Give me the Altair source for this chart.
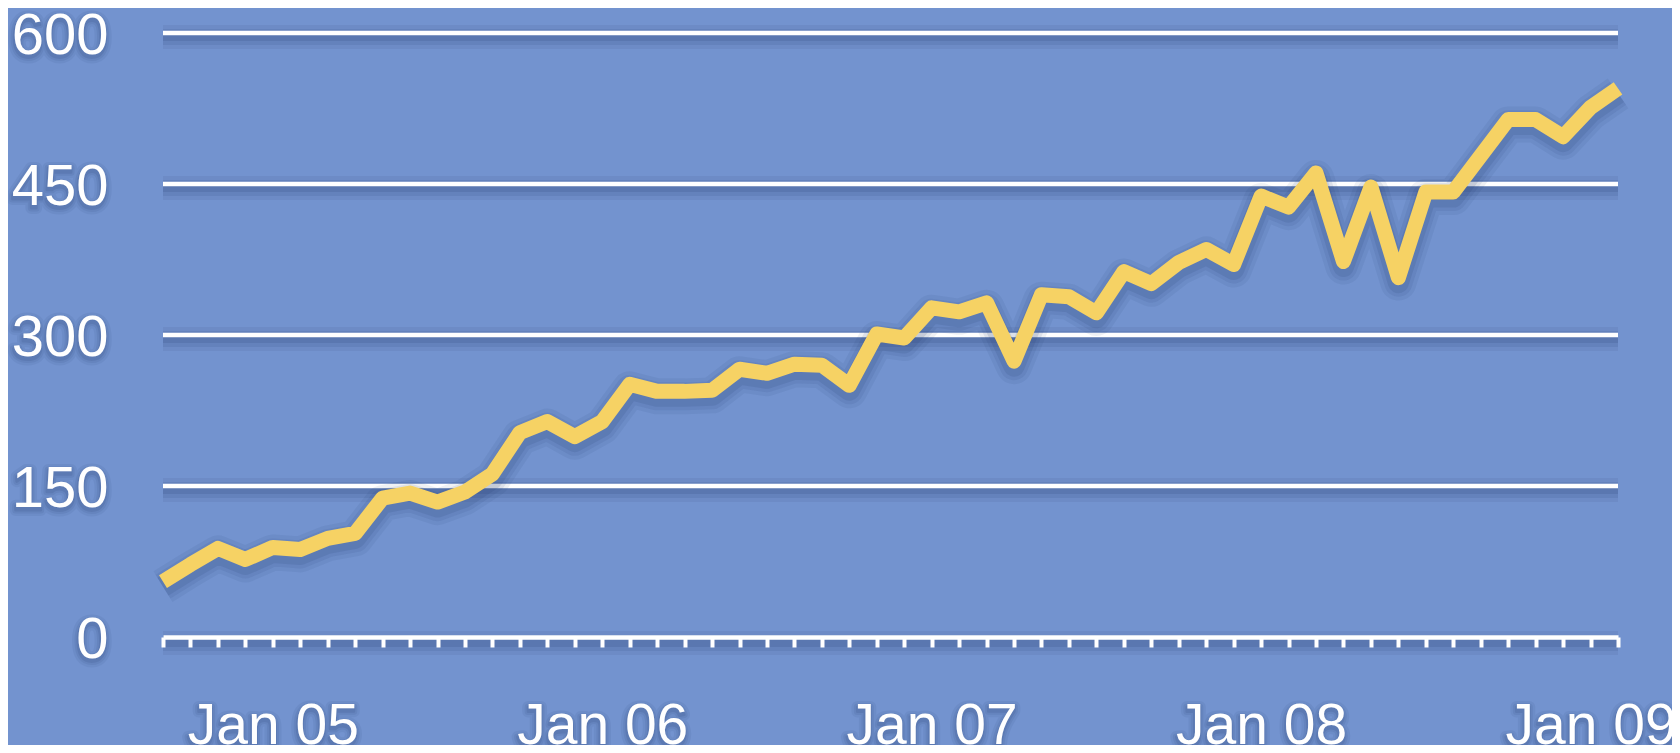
import altair as alt
import pandas as pd

# ---------------- data ----------------
MONTH_NAMES = ["Jan", "Feb", "Mar", "Apr", "May", "Jun",
               "Jul", "Aug", "Sep", "Oct", "Nov", "Dec"]
# Sep 2004 .. Feb 2009 (54 monthly categories)
months = []
for yr in range(2004, 2010):
    for mi, mn in enumerate(MONTH_NAMES):
        if (yr == 2004 and mi < 8) or (yr == 2009 and mi > 1):
            continue
        months.append(f"{mn} {str(yr)[2:]}")

values = [55, 72, 88, 77, 89, 87, 98, 103, 138, 143,
          134, 144, 162, 203, 214, 199, 214, 251, 244, 244,
          245, 266, 262, 271, 270, 250, 301, 297, 327, 323,
          332, 274, 340, 338, 322, 363, 351, 372, 385, 370,
          438, 427, 461, 373, 447, 357, 442, 442, 478, 514,
          514, 497, 526, 545]

y_ticks = [0, 150, 300, 450, 600]
grid_values = [150, 300, 450, 600]
x_labels = ["Jan 05", "Jan 06", "Jan 07", "Jan 08", "Jan 09"]

# ---------------- style ----------------
W, H = 1455, 604
BG = "#7393CF"
LINE = "#F6D264"
SHADOW = "#22386A"
FONT = "Liberation Sans"
TICK = 10
XPAD = 51
YPAD = 55

df = pd.DataFrame({"month": months, "value": values})
grid_df = pd.DataFrame({"value": grid_values})
zero_df = pd.DataFrame({"value": [0]})
ylab_df = pd.DataFrame({"value": y_ticks, "label": [str(v) for v in y_ticks]})
xlab_df = pd.DataFrame({"month": x_labels, "label": x_labels})

x_axis = alt.Axis(
    title=None, grid=False, labelAngle=0, labelOverlap=False, labelFlush=False,
    labelExpr="slice(datum.value, 0, 3) == 'Jan' ? datum.value : ''",
    labelFont=FONT, labelFontSize=57, labelColor="white", labelPadding=XPAD,
    domainColor="white", domainWidth=4.5, tickColor="white", tickWidth=4,
    tickSize=TICK, zindex=1,
)
y_axis = alt.Axis(
    title=None, grid=False, domain=False, ticks=False, tickSize=0,
    values=y_ticks, labelFont=FONT, labelFontSize=58, labelColor="white",
    labelPadding=YPAD, labelOffset=3, zindex=1,
)
x_scale = alt.Scale(type="point", padding=0)
y_scale = alt.Scale(domain=[0, 600], nice=False, zero=True)


def X():
    return alt.X("month:N", sort=months, scale=x_scale, axis=x_axis)


def Y():
    return alt.Y("value:Q", scale=y_scale, axis=y_axis)


SOFT = [(24, 0.08), (16, 0.10), (8, 0.14)]

layers = []
# gridline + x-axis domain shadows
for data, off in [(grid_df, 4), (zero_df, 6)]:
    for w, op in SOFT:
        layers.append(
            alt.Chart(data).mark_rule(color=SHADOW, strokeWidth=w, opacity=op, yOffset=off)
            .encode(y=Y(), x=alt.value(0), x2=alt.value(W))
        )
# gridlines
layers.append(
    alt.Chart(grid_df).mark_rule(color="white", strokeWidth=4.5)
    .encode(y=Y(), x=alt.value(0), x2=alt.value(W))
)
# line shadow
for w, op in [(36, 0.07), (28, 0.09), (21, 0.12)]:
    layers.append(
        alt.Chart(df).mark_line(color=SHADOW, strokeWidth=w, opacity=op, yOffset=5,
                                strokeJoin="round", strokeCap="butt")
        .encode(x=X(), y=Y())
    )
# main line
layers.append(
    alt.Chart(df).mark_line(color=LINE, strokeWidth=15, strokeJoin="round", strokeCap="butt")
    .encode(x=X(), y=Y())
)
# soft shadows behind the tick labels
for w, op in [(12, 0.07), (7, 0.09), (3, 0.12)]:
    layers.append(
        alt.Chart(ylab_df).mark_text(
            align="right", baseline="middle", font=FONT, fontSize=58,
            color=SHADOW, stroke=SHADOW, strokeWidth=w, opacity=op,
            strokeJoin="round", dy=3 + 4,
        ).encode(y=Y(), x=alt.value(-YPAD), text="label:N")
    )
    layers.append(
        alt.Chart(xlab_df).mark_text(
            align="center", baseline="top", font=FONT, fontSize=57,
            color=SHADOW, stroke=SHADOW, strokeWidth=w, opacity=op,
            strokeJoin="round", dy=4,
        ).encode(x=X(), y=alt.value(H + TICK + XPAD), text="label:N")
    )

chart = (
    alt.layer(*layers)
    .properties(
        width=W, height=H, background=BG,
        autosize=alt.AutoSizeParams(type="none"),
        padding={"left": 155, "top": 25, "right": 54, "bottom": 108},
    )
    .configure_view(strokeWidth=0)
)

chart.save("out.html", embed_options={"renderer": "svg", "actions": False})
